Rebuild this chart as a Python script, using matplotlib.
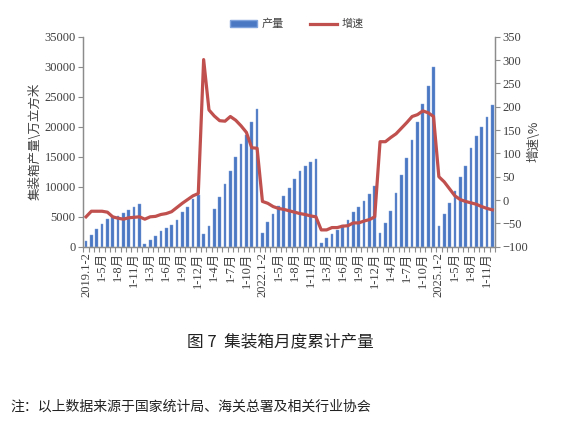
import matplotlib
matplotlib.use("Agg")
import matplotlib.pyplot as plt
from matplotlib.lines import Line2D
from matplotlib.patches import Patch
import numpy as np

plt.rcParams["font.family"] = ["Liberation Serif", "Noto Sans CJK SC"]

years = [2019, 2020, 2021, 2022, 2023, 2024, 2025]
months = ["1-2", "1-3", "1-4", "1-5", "1-6", "1-7", "1-8", "1-9", "1-10", "1-11", "1-12"]

# 累计产量, 万立方米
output = [
    1000, 1900, 2900, 3800, 4600, 5100, 5200, 5600, 6100, 6600, 7100,
    400, 1100, 1800, 2600, 3200, 3700, 4400, 5800, 6700, 7900, 8700,
    2200, 3500, 6300, 8300, 10400, 12600, 14900, 17200, 18600, 20800, 23000,
    2300, 4100, 5400, 6800, 8400, 9800, 11300, 12700, 13400, 14100, 14700,
    700, 1400, 2200, 2800, 3700, 4400, 5800, 6700, 7600, 8800, 10100,
    2300, 3900, 6000, 8900, 11900, 14800, 17800, 20800, 23800, 26800, 29900,
    3500, 5500, 7300, 9300, 11600, 13500, 16400, 18500, 20000, 21600, 23600,
]

# 增速, %
growth = [
    -36, -24, -24, -24, -26, -36, -39, -41, -38, -37, -36,
    -41, -36, -35, -31, -29, -25, -16, -7, 1, 9, 14,
    301, 193, 180, 170, 169, 179, 171, 159, 145, 112, 111,
    -3, -7, -14, -18, -20, -23, -26, -29, -31, -34, -36,
    -64, -64, -59, -59, -56, -55, -49, -49, -45, -42, -36,
    125, 125, 134, 142, 154, 166, 179, 183, 191, 187, 179,
    50, 39, 24, 9, 1, -3, -6, -9, -14, -18, -21,
]

labels = []
for y in years:
    for m in months:
        labels.append(f"{y}.{m}" if m == "1-2" else f"{m}月")

x = np.arange(len(output))
bar_color = "#4a78c2"
line_color = "#c0504d"
axis_color = "#8c8c8c"
text_color = "#404040"

fig = plt.figure(figsize=(5.67, 4.22), dpi=100)
ax = fig.add_axes([0.147, 0.4154, 0.726, 0.4976])
ax2 = ax.twinx()

ax.bar(x, output, width=0.5, color=bar_color, edgecolor="#7fa3dc", linewidth=0.3, zorder=2)
ax2.plot(x, growth, color=line_color, linewidth=2.3, solid_joinstyle="round", zorder=3)

ax.set_xlim(-0.5, len(output) - 0.5)
ax.set_ylim(0, 35000)
ax.set_yticks(np.arange(0, 35001, 5000))
ax2.set_ylim(-100, 350)
ax2.set_yticks(np.arange(-100, 351, 50))

# category boundary ticks, labels every third month
ax.set_xticks(np.arange(-0.5, len(output), 1))
ax.set_xticklabels([])
ax.tick_params(axis="x", which="major", length=3.5, color=axis_color, width=0.8)
pos = list(range(0, len(output), 3))
ax.set_xticks(pos, minor=True)
ax.set_xticklabels([labels[i] for i in pos], minor=True, rotation=90, fontsize=9, color=text_color)
ax.tick_params(axis="x", which="minor", length=0, pad=4)

ax.tick_params(axis="y", length=3.5, color=axis_color, width=0.8, labelsize=9, labelcolor=text_color, pad=2)
ax2.tick_params(axis="y", length=3.5, color=axis_color, width=0.8, labelsize=9, labelcolor=text_color, pad=2)

for a in (ax, ax2):
    a.spines["top"].set_visible(False)
    for s in ("left", "right", "bottom"):
        a.spines[s].set_color(axis_color)
        a.spines[s].set_linewidth(0.9)

ax.set_ylabel("集装箱产量\\万立方米", fontsize=9, color=text_color, family=["Noto Sans CJK SC"], labelpad=2)
ax2.set_ylabel("增速\\%", fontsize=9, color=text_color, family=["Noto Sans CJK SC"], rotation=90, labelpad=-1)

handles = [
    Patch(facecolor=bar_color, edgecolor="#7fa3dc", label="产量"),
    Line2D([0], [0], color=line_color, linewidth=2.3, label="增速"),
]
fig.legend(handles=handles, loc="center", bbox_to_anchor=(0.524, 0.943), ncol=2, frameon=False,
           prop={"family": "Noto Sans CJK SC", "size": 8}, labelcolor=text_color,
           handlelength=2.4, handleheight=0.5, columnspacing=2.4, handletextpad=0.4)

fig.text(0.494, 0.19, "图 7  集装箱月度累计产量", ha="center", va="center", fontsize=12,
         family=["Noto Sans CJK SC"], color="#222222")
fig.text(0.018, 0.036, "注：以上数据来源于国家统计局、海关总署及相关行业协会", ha="left", va="center",
         fontsize=10, family=["Noto Sans CJK SC"], color="#222222")

fig.savefig("out.png", dpi=100)
